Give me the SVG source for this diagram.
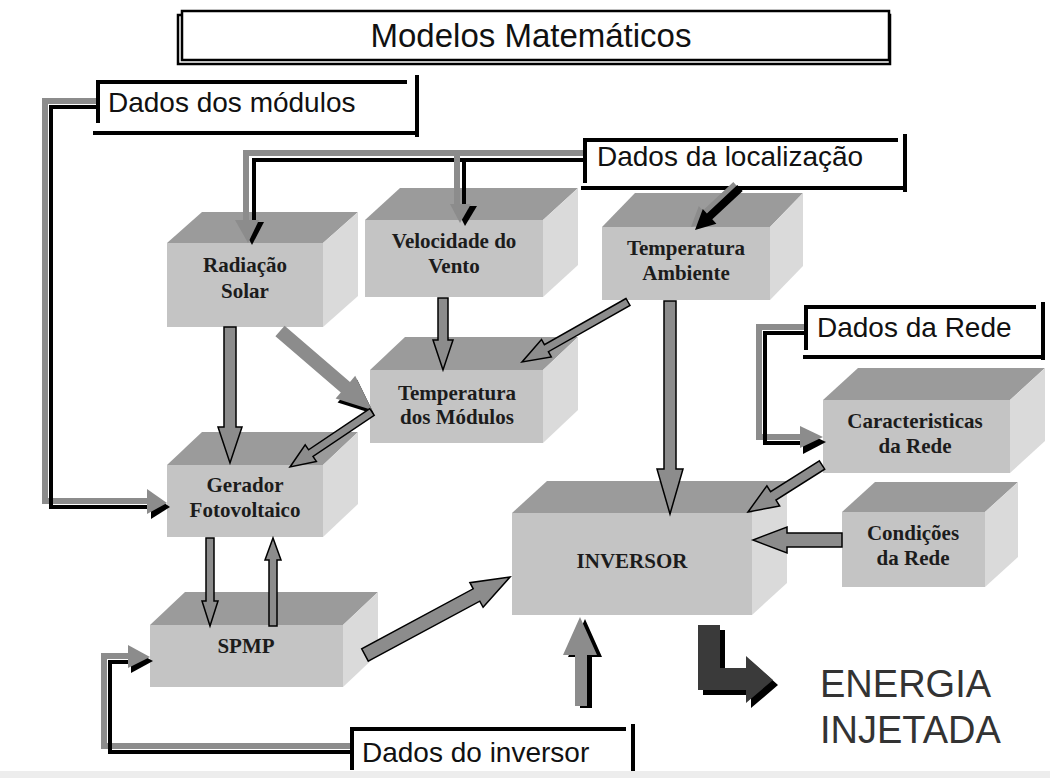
<svg xmlns="http://www.w3.org/2000/svg" width="1050" height="778" viewBox="0 0 1050 778">
<style>
.top{fill:#9b9b9b}
.side{fill:#dadada}
.front{fill:#c4c4c4}
.bt{font-family:"Liberation Serif","Times New Roman",serif;font-weight:bold;font-size:21px;fill:#1c1c1c;text-anchor:middle}
.lt{font-family:"Liberation Sans",Arial,sans-serif;font-size:28px;fill:#111}
.lb{stroke:#000;stroke-width:4;fill:none}
.g{fill:none;stroke:#8c8c8c;stroke-width:6}
.k{fill:none;stroke:#000;stroke-width:4}
.ga{fill:#8c8c8c}
.ka{fill:#000}
.oa{fill:#8c8c8c;stroke:#000;stroke-width:1.5;stroke-linejoin:miter}
</style>
<rect x="0" y="0" width="1050" height="778" fill="#fff"/>
<rect x="0" y="771" width="1050" height="7" fill="#ededed"/>

<g id="title">
<rect x="178" y="15" width="712" height="49" fill="none" stroke="#000" stroke-width="2.5"/>
<rect x="182" y="11" width="707" height="49" fill="#fff" stroke="#000" stroke-width="2.5"/>
<text x="531" y="47" font-family="Liberation Sans,Arial,sans-serif" font-size="33" fill="#111" text-anchor="middle">Modelos Matemáticos</text>
</g>

<g id="dados-modulos">
<line class="lb" x1="98" y1="80" x2="98" y2="123"/>
<line class="lb" x1="96" y1="82" x2="407" y2="82"/>
<line class="lb" x1="417" y1="75" x2="417" y2="137"/>
<line class="lb" x1="93" y1="133" x2="419" y2="133"/>
<text class="lt" x="108" y="112">Dados dos módulos</text>
</g>

<g id="dados-localizacao">
<line class="lb" x1="585" y1="138" x2="585" y2="183"/>
<line class="lb" x1="583" y1="140" x2="898" y2="140"/>
<line class="lb" x1="905" y1="134" x2="905" y2="192"/>
<line class="lb" x1="581" y1="188" x2="907" y2="188"/>
<text class="lt" x="597" y="166" font-size="29">Dados da localização</text>
</g>

<g id="dados-rede">
<line class="lb" x1="806" y1="305" x2="806" y2="350"/>
<line class="lb" x1="804" y1="307" x2="1036" y2="307"/>
<line class="lb" x1="1043" y1="302" x2="1043" y2="360"/>
<line class="lb" x1="803" y1="357" x2="1045" y2="357"/>
<text class="lt" x="817" y="337" font-size="29">Dados da Rede</text>
</g>

<g id="dados-inversor">
<line class="lb" x1="352" y1="727" x2="352" y2="770"/>
<line class="lb" x1="350" y1="729" x2="626" y2="729"/>
<line class="lb" x1="633" y1="724" x2="633" y2="771"/>
<text class="lt" x="362" y="762">Dados do inversor</text>
</g>

<g id="radiacao">
<polygon class="top" points="167,243 202,212 358,212 323,243"/>
<polygon class="side" points="323,243 358,212 358,296 323,327"/>
<rect class="front" x="167" y="243" width="156" height="84"/>
<text class="bt" x="245" y="272">Radiação</text>
<text class="bt" x="245" y="298">Solar</text>
</g>

<g id="velocidade">
<polygon class="top" points="365,220 400,188 578,188 543,220"/>
<polygon class="side" points="543,220 578,188 578,265 543,297"/>
<rect class="front" x="365" y="220" width="178" height="77"/>
<text class="bt" x="454" y="248">Velocidade do</text>
<text class="bt" x="454" y="273">Vento</text>
</g>

<g id="temp-ambiente">
<polygon class="top" points="602,227 635,193 803,193 770,227"/>
<polygon class="side" points="770,227 803,193 803,266 770,300"/>
<rect class="front" x="602" y="227" width="168" height="73"/>
<text class="bt" x="686" y="255">Temperatura</text>
<text class="bt" x="686" y="280">Ambiente</text>
</g>

<g id="temp-modulos">
<polygon class="top" points="370,370 405,337 578,337 543,370"/>
<polygon class="side" points="543,370 578,337 578,410 543,443"/>
<rect class="front" x="370" y="370" width="173" height="73"/>
<text class="bt" x="457" y="400">Temperatura</text>
<text class="bt" x="457" y="424">dos Módulos</text>
</g>

<g id="gerador">
<polygon class="top" points="167,465 202,432 358,432 323,465"/>
<polygon class="side" points="323,465 358,432 358,504 323,537"/>
<rect class="front" x="167" y="465" width="156" height="72"/>
<text class="bt" x="245" y="492">Gerador</text>
<text class="bt" x="245" y="517">Fotovoltaico</text>
</g>

<g id="spmp">
<polygon class="top" points="150,625 185,592 378,592 343,625"/>
<polygon class="side" points="343,625 378,592 378,654 343,687"/>
<rect class="front" x="150" y="625" width="193" height="62"/>
<text class="bt" x="246" y="653">SPMP</text>
</g>

<g id="inversor">
<polygon class="top" points="512,513 547,481 787,481 752,513"/>
<polygon class="side" points="752,513 787,481 787,583 752,615"/>
<rect class="front" x="512" y="513" width="240" height="102"/>
<text class="bt" x="632" y="568">INVERSOR</text>
</g>

<g id="caracteristicas">
<polygon class="top" points="823,400 858,368 1045,368 1010,400"/>
<polygon class="side" points="1010,400 1045,368 1045,441 1010,473"/>
<rect class="front" x="823" y="400" width="187" height="73"/>
<text class="bt" x="915" y="428">Caracteristicas</text>
<text class="bt" x="915" y="453">da Rede</text>
</g>

<g id="condicoes">
<polygon class="top" points="842,512 875,482 1018,482 985,512"/>
<polygon class="side" points="985,512 1018,482 1018,557 985,587"/>
<rect class="front" x="842" y="512" width="143" height="75"/>
<text class="bt" x="913" y="540">Condições</text>
<text class="bt" x="913" y="565">da Rede</text>
</g>

<g id="energia">
<path d="M703,630 H725 V673 H751 V661 L778,685 L751,708 V695 H703 Z" fill="#000"/>
<path d="M698,625 H720 V668 H746 V656 L773,680 L746,703 V690 H698 Z" fill="#3a3a3a"/>
<text x="820" y="697" font-family="Liberation Sans,Arial,sans-serif" font-size="38" fill="#333">ENERGIA</text>
<text x="820" y="743" font-family="Liberation Sans,Arial,sans-serif" font-size="38" fill="#333">INJETADA</text>
</g>

<g id="connectors">
<!-- Dados dos modulos -> Gerador -->
<path class="g" d="M96,101 H45 V501 H150"/>
<path class="k" d="M96,107 H51 V507 H150"/>
<polygon class="ka" points="151,494 170,507 151,519"/>
<polygon class="ga" points="147,489 167,503 147,514"/>

<!-- Dados da localizacao -> Radiacao, Velocidade -->
<path class="g" d="M583,153 H246 V222"/>
<path class="k" d="M583,160 H254 V222"/>
<path class="g" d="M457,153 V206"/>
<path class="k" d="M464,160 V206"/>
<polygon class="ka" points="240,222 264,222 252,245"/>
<polygon class="ga" points="235,220 259,220 248,243"/>
<polygon class="ka" points="455,206 477,206 465,226"/>
<polygon class="ga" points="450,204 471,204 460,223"/>

<!-- Dados da localizacao -> Temperatura Ambiente -->
<polygon class="ga" transform="translate(-4,-3)" points="737.3,185.1 706.9,213.5 702.8,209.1 695,230 716.4,223.7 712.3,219.3 742.7,190.9"/>
<polygon class="ka" points="737.3,185.1 706.9,213.5 702.8,209.1 695,230 716.4,223.7 712.3,219.3 742.7,190.9"/>

<!-- Dados da Rede -> Caracteristicas -->
<path class="g" d="M804,327 H759 V437 H805"/>
<path class="k" d="M804,333 H765 V443 H805"/>
<polygon class="ka" points="803,431 826,442 803,454"/>
<polygon class="ga" points="800,426 823,437 800,448"/>

<!-- Dados do inversor -> SPMP -->
<path class="g" d="M350,746 H104 V656 H132"/>
<path class="k" d="M350,752 H110 V662 H132"/>
<polygon class="ka" points="131,649 153,661 131,673"/>
<polygon class="ga" points="128,645 150,657 128,668"/>

<!-- Dados do inversor -> INVERSOR -->
<polygon class="ka" transform="translate(5,2)" points="575,706 575,655 563,655 580,617 597,655 587,655 587,706"/>
<polygon class="ga" points="575,706 575,655 563,655 580,617 597,655 587,655 587,706"/>

<!-- Radiacao -> Gerador -->
<polygon class="oa" points="224,327 224,427 218,427 230,463 242,427 236,427 236,327"/>
<!-- Radiacao -> Temperatura dos Modulos -->
<polygon class="ka" transform="translate(2,4)" points="335.6,398.6 372,410 355.2,375.8"/>
<polygon class="ga" points="275.4,336.3 340.8,392.5 335.6,398.6 372,410 355.2,375.8 350,381.9 284.6,325.7"/>
<!-- Velocidade -> Temperatura dos Modulos -->
<polygon class="oa" points="438,298 438,340 433,340 443,370 453,340 448,340 448,298"/>
<!-- Temperatura Ambiente -> Temperatura dos Modulos -->
<polygon class="oa" points="626,298.5 544.4,344.7 541.5,339.5 522,362 551.3,356.9 548.4,351.7 630,305.5"/>
<!-- Temperatura dos Modulos -> Gerador -->
<polygon class="oa" points="369.8,408.7 308.6,449.8 305.2,444.8 290,467 316.4,461.4 313,456.4 374.2,415.3"/>
<!-- Temperatura Ambiente -> INVERSOR -->
<polygon class="oa" points="664,301 664,469 657,469 670,514 683,469 676,469 676,301"/>
<!-- Caracteristicas -> INVERSOR -->
<polygon class="oa" points="819.3,460.8 770.6,491.7 766.9,485.8 748,512 779.7,506 776,500.1 824.7,469.2"/>
<!-- Condicoes -> INVERSOR -->
<polygon class="oa" points="842,533 787,533 787,527 753,540 787,553 787,547 842,547"/>
<!-- Gerador -> SPMP -->
<polygon class="oa" points="206,538 206,601 202,601 210,626 218,601 214,601 214,538"/>
<!-- SPMP -> Gerador -->
<polygon class="oa" points="269,626 269,560 265,560 273,538 281,560 277,560 277,626"/>
<!-- SPMP -> INVERSOR -->
<polygon class="oa" stroke-width="2" points="368.3,661.2 479.8,601.2 483.1,607.3 510,577 469.9,582.7 473.2,588.8 361.7,648.8"/>
</g>
</svg>
